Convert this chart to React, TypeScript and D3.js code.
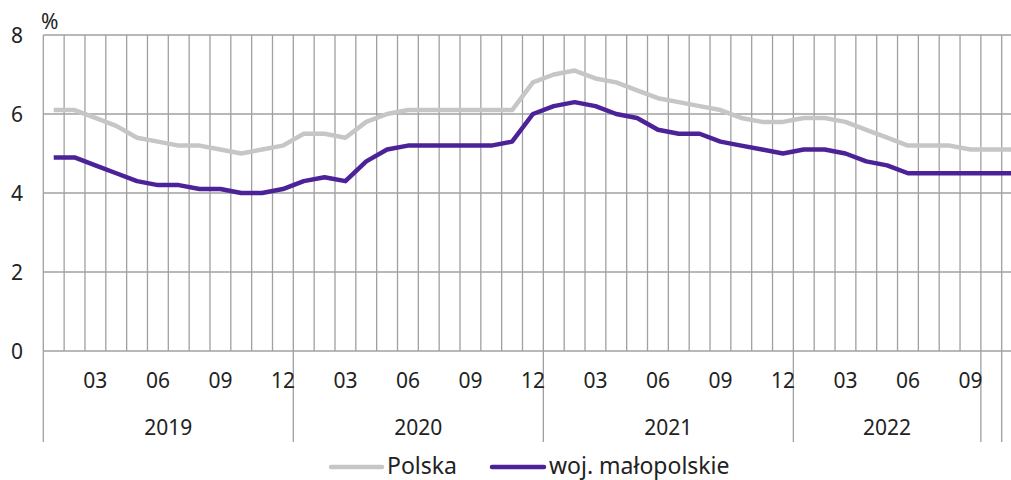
import * as d3 from 'd3';

// months Jan 2019 .. Nov 2022
const months: string[] = [];
for (let y = 2019; y <= 2022; y++) {
  for (let m = 1; m <= 12; m++) {
    if (y === 2022 && m > 11) break;
    months.push(`${y}-${String(m).padStart(2, '0')}`);
  }
}

const polska = [
  6.1, 6.1, 5.9, 5.7, 5.4, 5.3, 5.2, 5.2, 5.1, 5.0, 5.1, 5.2,
  5.5, 5.5, 5.4, 5.8, 6.0, 6.1, 6.1, 6.1, 6.1, 6.1, 6.1, 6.8,
  7.0, 7.1, 6.9, 6.8, 6.6, 6.4, 6.3, 6.2, 6.1, 5.9, 5.8, 5.8,
  5.9, 5.9, 5.8, 5.6, 5.4, 5.2, 5.2, 5.2, 5.1, 5.1, 5.1,
];

const malopolskie = [
  4.9, 4.9, 4.7, 4.5, 4.3, 4.2, 4.2, 4.1, 4.1, 4.0, 4.0, 4.1,
  4.3, 4.4, 4.3, 4.8, 5.1, 5.2, 5.2, 5.2, 5.2, 5.2, 5.3, 6.0,
  6.2, 6.3, 6.2, 6.0, 5.9, 5.6, 5.5, 5.5, 5.3, 5.2, 5.1, 5.0,
  5.1, 5.1, 5.0, 4.8, 4.7, 4.5, 4.5, 4.5, 4.5, 4.5, 4.5,
];

const yTicks = [0, 2, 4, 6, 8];
const monthLabels = ['03', '06', '09', '12'];
// group boundaries on the category axis (month index where a group starts)
const groupStarts = [0, 12, 24, 36, 45, 46];
const groupLabels = ['2019', '2020', '2021', '2022'];

const seriesNames = ['Polska', 'woj. małopolskie'];
const colors = ['#c6c6c6', '#4c2299'];

const W = 1011;
const H = 480;
const margin = { left: 43.3, top: 35, bottom: 351 };
const bandW = 20.835;
const font = '"Noto Sans", sans-serif';

export default function App() {
  const x = d3
    .scaleBand<string>()
    .domain(months)
    .range([margin.left, margin.left + months.length * bandW])
    .padding(0);
  const y = d3.scaleLinear().domain([0, 8]).range([margin.bottom, margin.top]);

  const cx = (i: number) => (x(months[i]) as number) + x.bandwidth() / 2;
  const edge = (i: number) =>
    i < months.length ? (x(months[i]) as number) : margin.left + i * bandW;

  const line = d3
    .line<number>()
    .x((_, i) => cx(i))
    .y((d) => y(d));

  const right = margin.left + months.length * bandW;
  const groupEnd = (g: number) => edge(groupStarts[g + 1]);

  return (
    <div style={{ position: 'absolute', left: 0, top: 0 }}>
      <svg width={W} height={H} style={{ display: 'block' }} fontFamily={font}>
        <rect width={W} height={H} fill="#fff" />
        {/* vertical grid */}
        {months.map((m, i) => (
          <line
            key={m}
            x1={edge(i)}
            x2={edge(i)}
            y1={margin.top}
            y2={margin.bottom}
            stroke="#a0a0a0"
            strokeWidth={1.3}
          />
        ))}
        {/* horizontal grid */}
        {yTicks.map((t) => (
          <line
            key={t}
            x1={margin.left}
            x2={right}
            y1={y(t)}
            y2={y(t)}
            stroke="#a0a0a0"
            strokeWidth={1.3}
          />
        ))}
        {/* group separators */}
        {groupStarts.map((s) => (
          <line
            key={s}
            x1={edge(s)}
            x2={edge(s)}
            y1={margin.bottom}
            y2={442}
            stroke="#a0a0a0"
            strokeWidth={1.3}
          />
        ))}
        {/* y labels */}
        {yTicks.map((t) => (
          <text key={t} x={23} y={y(t) + 7.5} textAnchor="end" fontSize={21} fill="#222">
            {t}
          </text>
        ))}
        <text x={41} y={29} fontSize={21} fill="#222">
          %
        </text>
        {/* month labels */}
        {months.map((m, i) => {
          const lab = m.slice(5);
          if (!monthLabels.includes(lab)) return null;
          if (i >= groupStarts[4]) return null;
          return (
            <text key={m} x={cx(i)} y={388} textAnchor="middle" fontSize={21} fill="#222">
              {lab}
            </text>
          );
        })}
        {/* year labels */}
        {groupLabels.map((g, k) => (
          <text
            key={g}
            x={(edge(groupStarts[k]) + groupEnd(k)) / 2}
            y={435}
            textAnchor="middle"
            fontSize={21}
            fill="#222"
          >
            {g}
          </text>
        ))}
        {/* lines */}
        {[polska, malopolskie].map((s, k) => (
          <path
            key={k}
            d={line(s) as string}
            fill="none"
            stroke={colors[k]}
            strokeWidth={4.5}
            strokeLinejoin="round"
          />
        ))}
        {/* legend */}
        <line x1={331} x2={382} y1={467} y2={467} stroke={colors[0]} strokeWidth={4.5} strokeLinecap="round" />
        <text x={387} y={474} fontSize={23} fill="#222">
          {seriesNames[0]}
        </text>
        <line x1={492} x2={544} y1={467} y2={467} stroke={colors[1]} strokeWidth={4.5} strokeLinecap="round" />
        <text x={549} y={474} fontSize={23} fill="#222">
          {seriesNames[1]}
        </text>
      </svg>
    </div>
  );
}
